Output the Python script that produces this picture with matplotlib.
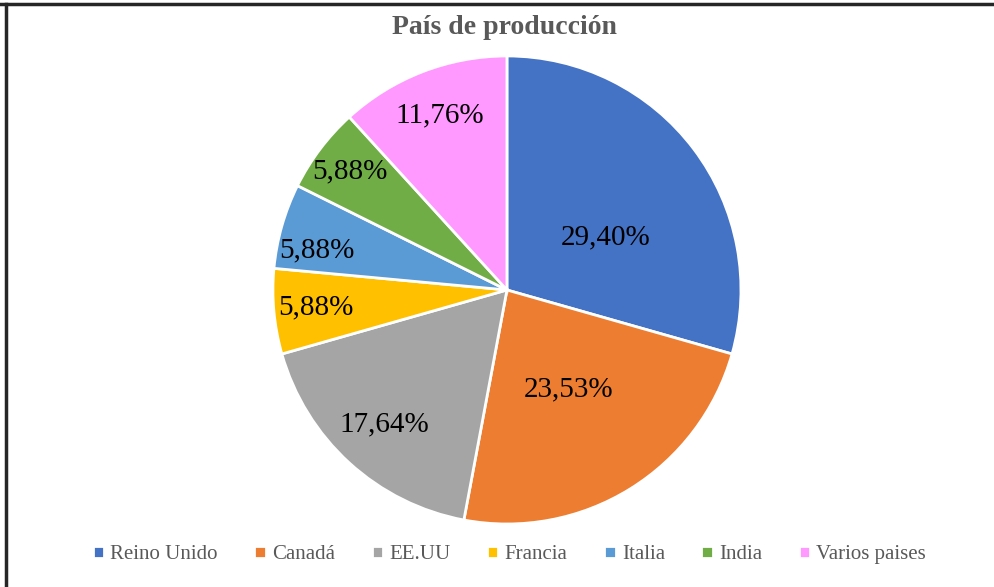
import matplotlib
matplotlib.use("Agg")
import matplotlib.pyplot as plt
import numpy as np

# datos del grafico
paises = ['Reino Unido', 'Canadá', 'EE.UU', 'Francia', 'Italia', 'India', 'Varios paises']
porcentajes = [29.40, 23.53, 17.64, 5.88, 5.88, 5.88, 11.76]
etiquetas = ['29,40%', '23,53%', '17,64%', '5,88%', '5,88%', '5,88%', '11,76%']
colores = ['#4472C4', '#ED7D31', '#A5A5A5', '#FFC000', '#5B9BD5', '#70AD47', '#FF99FF']
# distancia radial de cada etiqueta (fraccion del radio) y giro extra en grados
dist_etiq = [0.48, 0.50, 0.78, 0.82, 0.83, 0.84, 0.80]
giro_etiq = [-9, 0, 0, 0, 4, 0, 0]

plt.rcParams['font.family'] = ['Liberation Serif', 'DejaVu Serif']

fig = plt.figure(figsize=(9.95, 5.87), dpi=100)
ax = fig.add_axes([0.5095 - 0.2352, 0.506 - 0.3987, 0.4704, 0.7974])

wedges, _ = ax.pie(porcentajes, colors=colores, startangle=90, counterclock=False,
                   wedgeprops=dict(edgecolor='white', linewidth=2))
ax.set_aspect('equal')
ax.set_xlim(-1, 1)
ax.set_ylim(-1, 1)

for w, txt, d, g in zip(wedges, etiquetas, dist_etiq, giro_etiq):
    ang = np.deg2rad((w.theta1 + w.theta2) / 2 + g)
    ax.text(d * np.cos(ang), d * np.sin(ang), txt, ha='center', va='center',
            fontsize=21, color='black')

fig.text(0.507, 0.953, 'País de producción', ha='center', va='center',
         fontsize=20, fontweight='bold', color='#595959')

fig.legend(wedges, paises, loc='center', bbox_to_anchor=(0.512, 0.055), ncol=7,
           frameon=False, fontsize=15, labelcolor='#595959', handlelength=0.55,
           handleheight=0.55, handletextpad=0.3, columnspacing=1.75)

# borde
fig.add_artist(plt.Line2D([0.0065, 0.0065], [0, 0.993], color='#262626', lw=2.5))
fig.add_artist(plt.Line2D([0, 1], [0.993, 0.993], color='#262626', lw=2.5))

fig.savefig('out.png', dpi=100)
